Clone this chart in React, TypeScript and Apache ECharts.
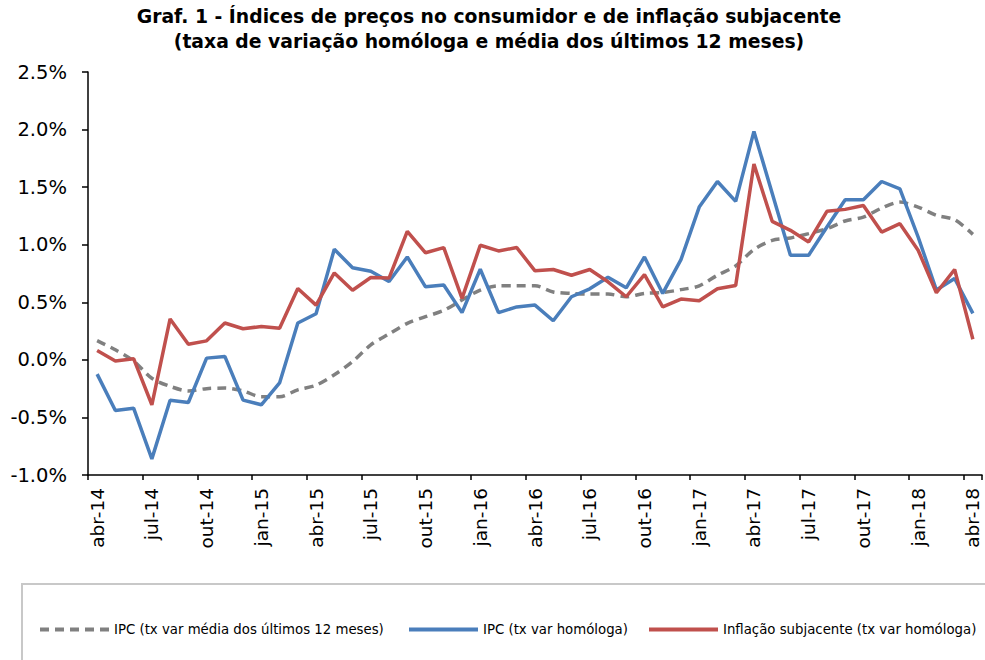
import React, { useEffect, useRef } from "react";
import * as echarts from "echarts";

const categories = [
  "abr-14","mai-14","jun-14","jul-14","ago-14","set-14","out-14","nov-14","dez-14",
  "jan-15","fev-15","mar-15","abr-15","mai-15","jun-15","jul-15","ago-15","set-15","out-15","nov-15","dez-15",
  "jan-16","fev-16","mar-16","abr-16","mai-16","jun-16","jul-16","ago-16","set-16","out-16","nov-16","dez-16",
  "jan-17","fev-17","mar-17","abr-17","mai-17","jun-17","jul-17","ago-17","set-17","out-17","nov-17","dez-17",
  "jan-18","fev-18","mar-18","abr-18",
];

const ipcMedia12 = [
  0.167, 0.087, -0.01, -0.16, -0.23, -0.27, -0.25, -0.245, -0.27, -0.32,
  -0.32, -0.26, -0.22, -0.13, -0.015, 0.13, 0.225, 0.317, 0.375, 0.43,
  0.52, 0.606, 0.643, 0.643, 0.643, 0.59, 0.577, 0.571, 0.571, 0.548,
  0.577, 0.585, 0.61, 0.643, 0.735, 0.816, 0.958, 1.038, 1.059, 1.096,
  1.139, 1.206, 1.24, 1.318, 1.37, 1.327, 1.255, 1.217, 1.09,
];

const ipcHomologa = [
  -0.124, -0.44, -0.42, -0.86, -0.35, -0.37, 0.015, 0.03, -0.35, -0.39,
  -0.2, 0.32, 0.4, 0.96, 0.8, 0.77, 0.68, 0.894, 0.634, 0.65,
  0.41, 0.787, 0.41, 0.46, 0.476, 0.34, 0.548, 0.617, 0.718, 0.626,
  0.894, 0.577, 0.87, 1.327, 1.549, 1.376, 1.984, 1.446, 0.909, 0.909,
  1.154, 1.39, 1.39, 1.549, 1.485, 1.067, 0.606, 0.707, 0.404,
];

const inflacaoSubjacente = [
  0.081, -0.01, 0.01, -0.39, 0.355, 0.135, 0.165, 0.32, 0.27, 0.29,
  0.275, 0.62, 0.475, 0.755, 0.605, 0.715, 0.71, 1.116, 0.93, 0.975,
  0.534, 0.995, 0.946, 0.975, 0.773, 0.785, 0.735, 0.785, 0.678, 0.548,
  0.741, 0.46, 0.528, 0.513, 0.617, 0.646, 1.7, 1.203, 1.125, 1.024,
  1.29, 1.307, 1.341, 1.11, 1.183, 0.952, 0.583, 0.785, 0.179,
];

const seriesNames = [
  "IPC (tx var média dos últimos 12 meses)",
  "IPC (tx var homóloga)",
  "Inflação subjacente (tx var homóloga)",
];

const titleLines = [
  "Graf. 1 - Índices de preços no consumidor e de inflação subjacente",
  "(taxa de variação homóloga e média dos últimos 12 meses)",
];

export default function App() {
  const ref = useRef<HTMLDivElement>(null);
  useEffect(() => {
    if (!ref.current) return;
    const chart = echarts.init(ref.current, null, { renderer: "svg" });
    const axisFont = "'DejaVu Sans', sans-serif";
    const legendLefts = [33, 402, 642];
    const legends = seriesNames.map((name, i) => ({
      left: legendLefts[i],
      top: 618,
      itemWidth: 69,
      itemHeight: 16,
      itemStyle: { opacity: 0 },
      lineStyle: { width: 4 },
      textStyle: { fontFamily: axisFont, fontSize: 13.3, color: "#000" },
      data: [name],
    }));
    chart.setOption({
      animation: false,
      backgroundColor: "#ffffff",
      graphic: [
        {
          type: "text",
          x: 489,
          y: 7,
          style: {
            text: titleLines[0],
            fill: "#000",
            font: "bold 18.8px 'DejaVu Sans', sans-serif",
            textAlign: "center",
          },
        },
        {
          type: "text",
          x: 489,
          y: 32,
          style: {
            text: titleLines[1],
            fill: "#000",
            font: "bold 18.8px 'DejaVu Sans', sans-serif",
            textAlign: "center",
          },
        },
        {
          type: "rect",
          shape: { x: 22, y: 584, width: 980, height: 100 },
          style: { fill: "none", stroke: "#c8c8c8", lineWidth: 2 },
        },
      ],
      legend: legends,
      grid: { left: 88, right: 3, top: 72, bottom: 185, containLabel: false },
      xAxis: [
        {
          type: "category",
          data: categories,
          boundaryGap: true,
          position: "bottom",
          axisLine: { show: false },
          axisTick: { show: false },
          axisLabel: {
            interval: 2,
            rotate: 90,
            margin: 13,
            fontFamily: axisFont,
            fontSize: 18.5,
            color: "#000",
          },
        },
        {
          type: "category",
          data: categories,
          boundaryGap: true,
          position: "bottom",
          axisLine: { show: true, onZero: true, lineStyle: { color: "#000", width: 1.5 } },
          axisTick: { show: true, interval: 2, length: 5, lineStyle: { color: "#000", width: 1.5 } },
          axisLabel: { show: false },
        },
      ],
      yAxis: {
        type: "value",
        min: -1,
        max: 2.5,
        interval: 0.5,
        splitLine: { show: false },
        axisLine: { show: true, lineStyle: { color: "#000", width: 1.5 } },
        axisTick: { show: true, length: 6, lineStyle: { color: "#000", width: 1.5 } },
        axisLabel: {
          margin: 21,
          fontFamily: axisFont,
          fontSize: 19.5,
          color: "#000",
          formatter: (v: number) => v.toFixed(1) + "%",
        },
      },
      series: [
        {
          name: seriesNames[0],
          type: "line",
          data: ipcMedia12,
          smooth: 0.3,
          symbol: "none",
          color: "#808080",
          lineStyle: { color: "#808080", width: 3.5, type: [9, 6] },
          z: 2,
        },
        {
          name: seriesNames[1],
          type: "line",
          data: ipcHomologa,
          symbol: "none",
          color: "#4a7ebb",
          lineStyle: { color: "#4a7ebb", width: 3.5 },
          z: 3,
        },
        {
          name: seriesNames[2],
          type: "line",
          data: inflacaoSubjacente,
          symbol: "none",
          color: "#c0504d",
          lineStyle: { color: "#c0504d", width: 3.5 },
          z: 4,
        },
      ],
    });
    return () => chart.dispose();
  }, []);
  return (
    <div
      ref={ref}
      style={{ position: "fixed", left: 0, top: 0, width: 985, height: 660 }}
    />
  );
}
